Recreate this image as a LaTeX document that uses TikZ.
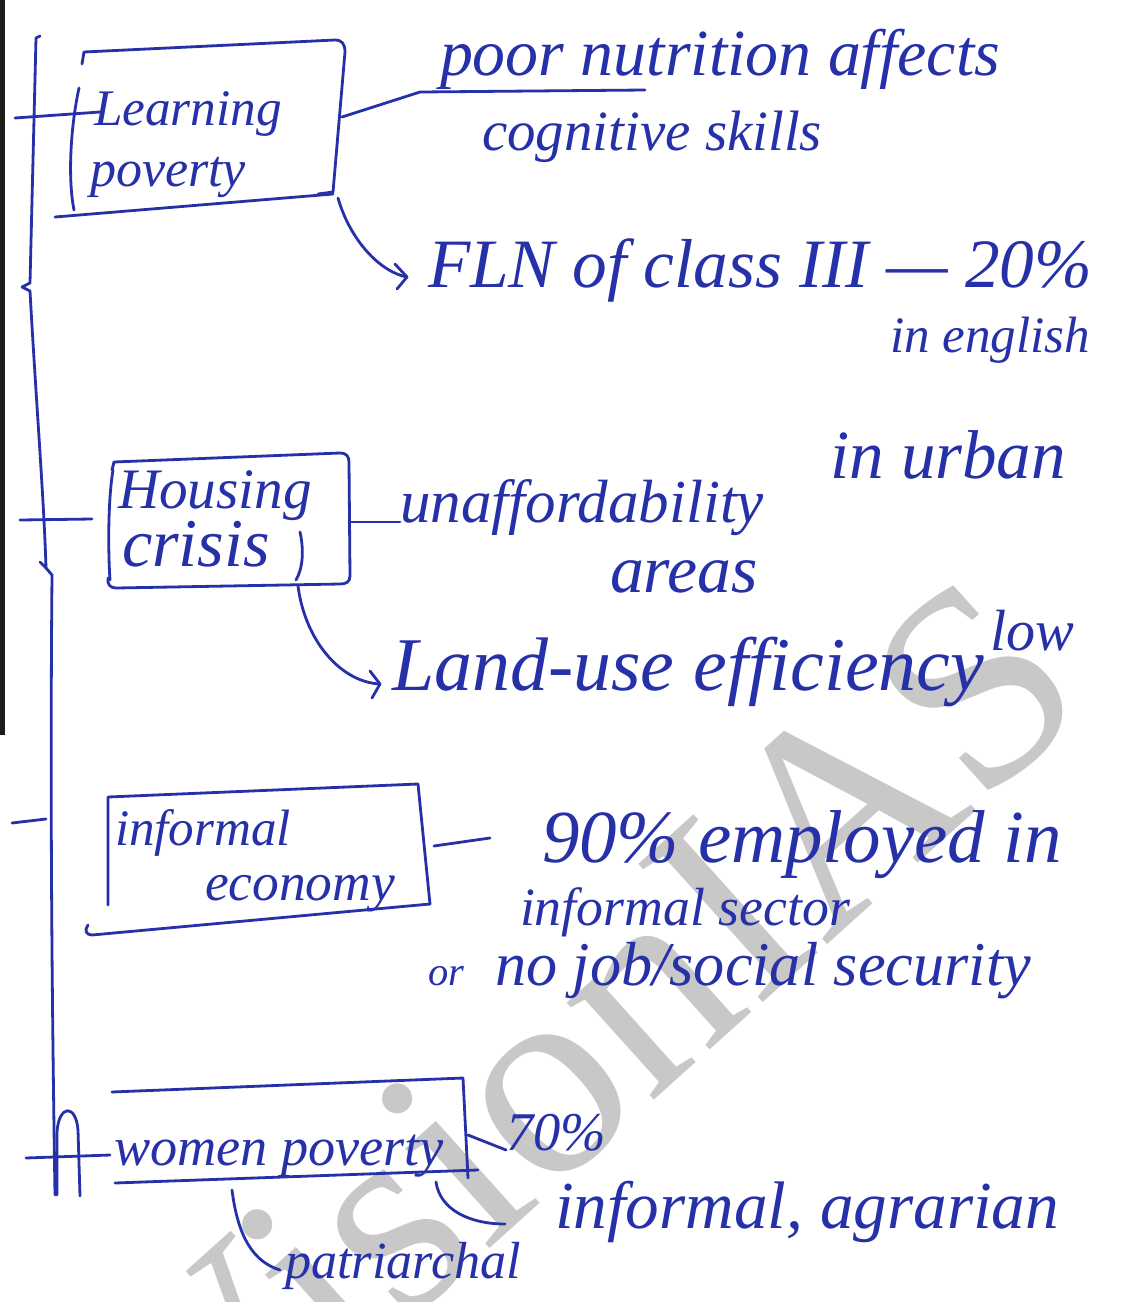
\documentclass[tikz,border=0pt]{standalone}
\usepackage{fontspec}
\setmainfont{Liberation Serif}
\usepackage{graphicx}
\definecolor{ink}{RGB}{38,48,168}
\definecolor{wmark}{RGB}{200,200,200}
\definecolor{edge}{RGB}{28,28,28}
% hand line scaled to a target width
\newcommand\hw[2]{\resizebox{#1}{!}{\fontsize{30pt}{30pt}\selectfont\itshape #2}}
\tikzset{
  ink/.style={draw=ink, line width=1.4pt, line cap=round, line join=round},
  hand/.style={text=ink, inner sep=0pt, outer sep=0pt, anchor=base west},
}
\begin{document}
\begin{tikzpicture}[x=0.5pt,y=-0.5pt]
\path[use as bounding box] (0,0) rectangle (1125,1302);
\clip (0,0) rectangle (1125,1302);
\fill[white] (0,0) rectangle (1125,1302);

% watermark
\node[text=wmark, inner sep=0pt, anchor=base west, rotate=42] (wm) at (205,1505)
  {\fontsize{142}{142}\selectfont VisionIAS};

% page edge
\fill[edge] (0,0) rectangle (5,735);

% spine with side ticks
\coordinate (s0) at (36,38);
\coordinate (s1) at (30,283);
\coordinate (s2) at (46,568);
\coordinate (s3) at (55,1195);
\draw[ink] (40,36) -- (s0) .. controls (34,120) and (32,200) .. (s1) -- (22,287) -- (30,291)
  .. controls (36,400) and (44,500) .. (s2) -- (40,562);
\draw[ink] (s2) -- (52,575) .. controls (50,800) and (52,1000) .. (s3);
\draw[ink] (57,1195) -- (57,1132) .. controls (59,1104) and (76,1104) .. (78,1130) -- (80,1196);
\draw[ink] (15,118) -- (100,112);
\draw[ink] (20,520) -- (92,519);
\draw[ink] (12,823) -- (46,819);
\draw[ink] (26,1158) -- (110,1155);

% box 1
\node[hand] (learn) at (94,125) {\hw{94pt}{Learning}};
\node[hand] (pov) at (90,186) {\hw{78pt}{poverty}};
\draw[ink] (82,64) -- (84,52) -- (335,40) .. controls (342,40) and (345,44) .. (345,52) -- (333,192) -- (318,194);
\draw[ink] (333,194) -- (55,217);
\draw[ink] (79,88) .. controls (70,130) and (68,180) .. (74,210);
\coordinate (b1r) at (342,117);
\coordinate (b1b) at (338,198);

\node[hand] (nut) at (440,75) {\hw{280pt}{poor nutrition affects}};
\node[hand] (cog) at (482,150) {\hw{170pt}{cognitive skills}};
\coordinate (ul) at (420,92);
\draw[ink] (b1r) -- (ul) -- (645,90);

\node[hand] (fln) at (428,287) {\hw{332pt}{FLN of class III — 20\%}};
\node[hand] (eng) at (890,352) {\hw{100pt}{in english}};
\coordinate (a1) at (407,277);
\draw[ink] (b1b) .. controls (350,240) and (380,272) .. (a1);
\draw[ink] (395,264) -- (a1) -- (397,289);

% box 2
\node[hand] (hous) at (118,508) {\hw{97pt}{Housing}};
\node[hand] (cris) at (122,566) {\hw{74pt}{crisis}};
\draw[ink] (112,470) -- (114,462) -- (340,453) .. controls (346,453) and (349,456) .. (349,462) -- (350,576)
  .. controls (350,582) and (346,584) .. (340,584) -- (116,588) .. controls (110,588) and (107,584) .. (108,578);
\draw[ink] (113,470) .. controls (108,500) and (108,550) .. (110,580);
\draw[ink] (300,532) .. controls (304,550) and (303,568) .. (296,580);
\coordinate (b2r) at (349,522);
\coordinate (b2b) at (298,586);

\node[hand] (unaf) at (400,522) {\hw{182pt}{unaffordability}};
\node[hand] (urb) at (830,478) {\hw{118pt}{in urban}};
\node[hand] (are) at (610,592) {\hw{74pt}{areas}};
\draw[ink] (b2r) -- (unaf.base west);

\node[hand] (land) at (392,690) {\hw{296pt}{Land-use efficiency}};
\node[hand] (low) at (990,650) {\hw{42pt}{low}};
\coordinate (a2) at (380,684);
\draw[ink] (b2b) .. controls (305,640) and (340,682) .. (a2);
\draw[ink] (370,671) -- (a2) -- (372,698);

% box 3
\node[hand] (inf) at (115,845) {\hw{88pt}{informal}};
\node[hand] (eco) at (205,900) {\hw{95pt}{economy}};
\draw[ink] (108,905) -- (108,797) -- (418,784) -- (430,904);
\draw[ink] (430,904) -- (92,935) .. controls (86,935) and (84,930) .. (88,925);
\coordinate (b3r) at (434,846);

\node[hand] (emp) at (542,862) {\hw{260pt}{90\% employed in}};
\node[hand] (sec) at (520,925) {\hw{165pt}{informal sector}};
\node[hand] (or) at (428,985) {\hw{18pt}{or}};
\node[hand] (job) at (495,985) {\hw{268pt}{no job/social security}};
\draw[ink] (b3r) -- (490,838);

% box 4
\node[hand] (wom) at (114,1165) {\hw{165pt}{women poverty}};
\draw[ink] (112,1092) -- (463,1078) -- (468,1178);
\draw[ink] (115,1183) -- (478,1170);
\coordinate (b4r) at (468,1135);
\coordinate (b4b) at (436,1182);
\coordinate (b4l) at (232,1190);

\node[hand] (sev) at (506,1150) {\hw{50pt}{70\%}};
\node[hand] (agr) at (555,1228) {\hw{252pt}{informal, agrarian}};
\node[hand] (pat) at (285,1278) {\hw{118pt}{patriarchal}};
\draw[ink] (b4r) -- (sev.base west);
\draw[ink] (b4b) .. controls (440,1210) and (470,1224) .. (505,1224);
\draw[ink] (b4l) .. controls (238,1238) and (254,1262) .. (280,1270);
\end{tikzpicture}
\end{document}
